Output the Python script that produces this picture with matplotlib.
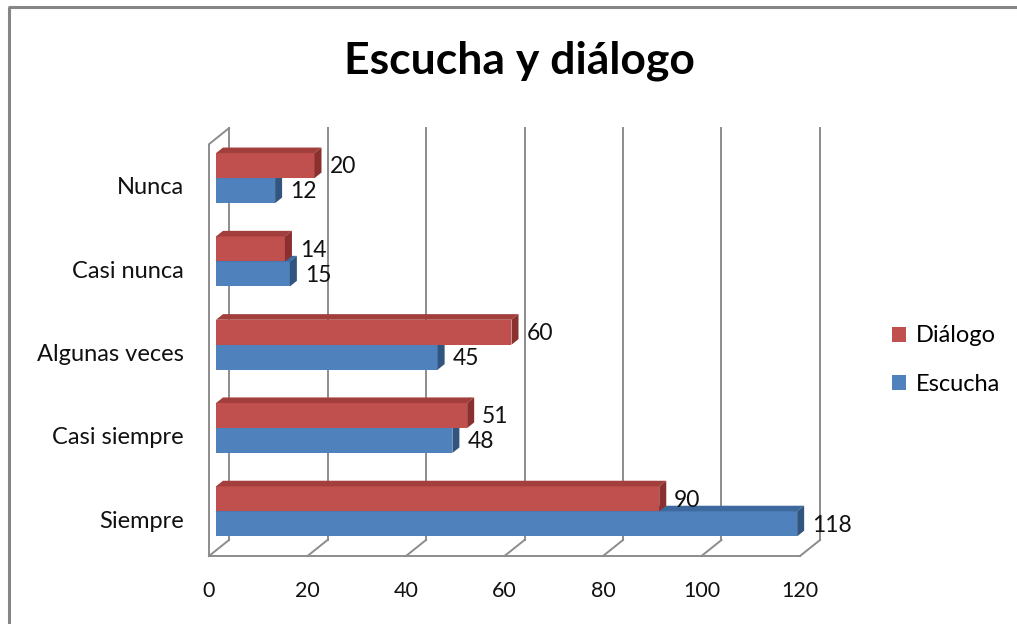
import matplotlib
matplotlib.use('Agg')
import matplotlib.pyplot as plt
from matplotlib.patches import Polygon, Patch
from matplotlib.lines import Line2D

plt.rcParams['font.family'] = ['Lato', 'DejaVu Sans']

categories = ['Siempre', 'Casi siempre', 'Algunas veces', 'Casi nunca', 'Nunca']
escucha = [118, 48, 45, 15, 12]
dialogo = [90, 51, 60, 14, 20]
xticks = [0, 20, 40, 60, 80, 100, 120]

# colours: front / top / side face
RED = ('#C0504D', '#A23E3B', '#8A302E')
BLUE = ('#4F81BD', '#3D699E', '#31557F')
GRID = '#8C8C8C'

W, H = 1017, 624
PX_X = 4.925          # px per value unit
PX_Y = 83.3           # px per category unit
DX = 20 / PX_X        # depth offset (back wall) in value units
DY = 16 / PX_Y        # depth offset in category units
FLOOR, TOP = -0.444, 4.5
D0, D1 = 0.35, 0.70   # bar front / back depth
BH = 0.30             # bar thickness
LIFT = 0.025          # bars sit a touch above the category tick


def proj(x, y, d):
    return (x + d * DX, y + d * DY)


def bar3d(ax, y0, y1, v, cols):
    front, top, side = cols
    ax.add_patch(Polygon([proj(0, y0, D0), proj(v, y0, D0), proj(v, y1, D0), proj(0, y1, D0)],
                         closed=True, fc=front, ec='none', clip_on=False, zorder=3))
    ax.add_patch(Polygon([proj(0, y1, D0), proj(v, y1, D0), proj(v, y1, D1), proj(0, y1, D1)],
                         closed=True, fc=top, ec='none', clip_on=False, zorder=3))
    ax.add_patch(Polygon([proj(v, y0, D0), proj(v, y0, D1), proj(v, y1, D1), proj(v, y1, D0)],
                         closed=True, fc=side, ec='none', clip_on=False, zorder=3))


fig = plt.figure(figsize=(W / 100, H / 100), dpi=100)
ax = fig.add_axes([209 / W, (H - 556) / H, (800 - 209) / W, (TOP - FLOOR) * PX_Y / H])
ax.set_xlim(0, 120)
ax.set_ylim(FLOOR, TOP)
for s in ax.spines.values():
    s.set_visible(False)

# walls and floor
kw = dict(color=GRID, lw=1.4, clip_on=False, zorder=1)
for t in xticks:
    ax.plot(*zip(proj(t, FLOOR, 1), proj(t, TOP, 1)), **kw)
    ax.plot(*zip(proj(t, FLOOR, 0), proj(t, FLOOR, 1)), **kw)
ax.plot([0, 120], [FLOOR, FLOOR], **kw)
ax.plot(*zip(proj(0, FLOOR, 0), proj(0, TOP, 0), proj(0, TOP, 1)), **kw)

# bars: Escucha below, Diálogo above
for i, (e, d) in enumerate(zip(escucha, dialogo)):
    c = i + LIFT
    bar3d(ax, c - BH, c, e, BLUE)
    bar3d(ax, c, c + BH, d, RED)
    for v, yc in ((e, c - BH / 2), (d, c + BH / 2)):
        x, y = proj(v, yc, D0)
        ax.text(v + D1 * DX + 1.6, y - 0.015, str(v), ha='left', va='center',
                fontsize=16.5, color='#111111', zorder=4)

ax.set_xticks(xticks)
ax.set_yticks(range(len(categories)))
ax.set_yticklabels(categories)
ax.tick_params(axis='both', length=0, colors='#111111')
ax.tick_params(axis='y', pad=18, labelsize=17)
ax.tick_params(axis='x', pad=18, labelsize=15.5)

handles = [Patch(fc=RED[0], label='Diálogo'), Patch(fc=BLUE[0], label='Escucha')]
fig.legend(handles=handles, loc='center left', bbox_to_anchor=(871 / W, 1 - 360 / H),
           frameon=False, fontsize=17, handlelength=0.6, handleheight=0.6,
           handletextpad=0.4, labelspacing=1.15)

fig.text(519 / W, 1 - 61 / H, 'Escucha y diálogo', ha='center', va='center',
         fontsize=32, fontweight='bold', color='#000000')

# chart frame: only left and top edges fall inside the picture
fig.lines.append(Line2D([8.5 / W, 8.5 / W], [-0.01, 1 - 6.5 / H], transform=fig.transFigure,
                        color='#868686', lw=2.2, solid_capstyle='butt'))
fig.lines.append(Line2D([7.5 / W, 1.01], [1 - 6.5 / H, 1 - 6.5 / H], transform=fig.transFigure,
                        color='#868686', lw=2.2, solid_capstyle='butt'))

fig.savefig('out.png', dpi=100)
